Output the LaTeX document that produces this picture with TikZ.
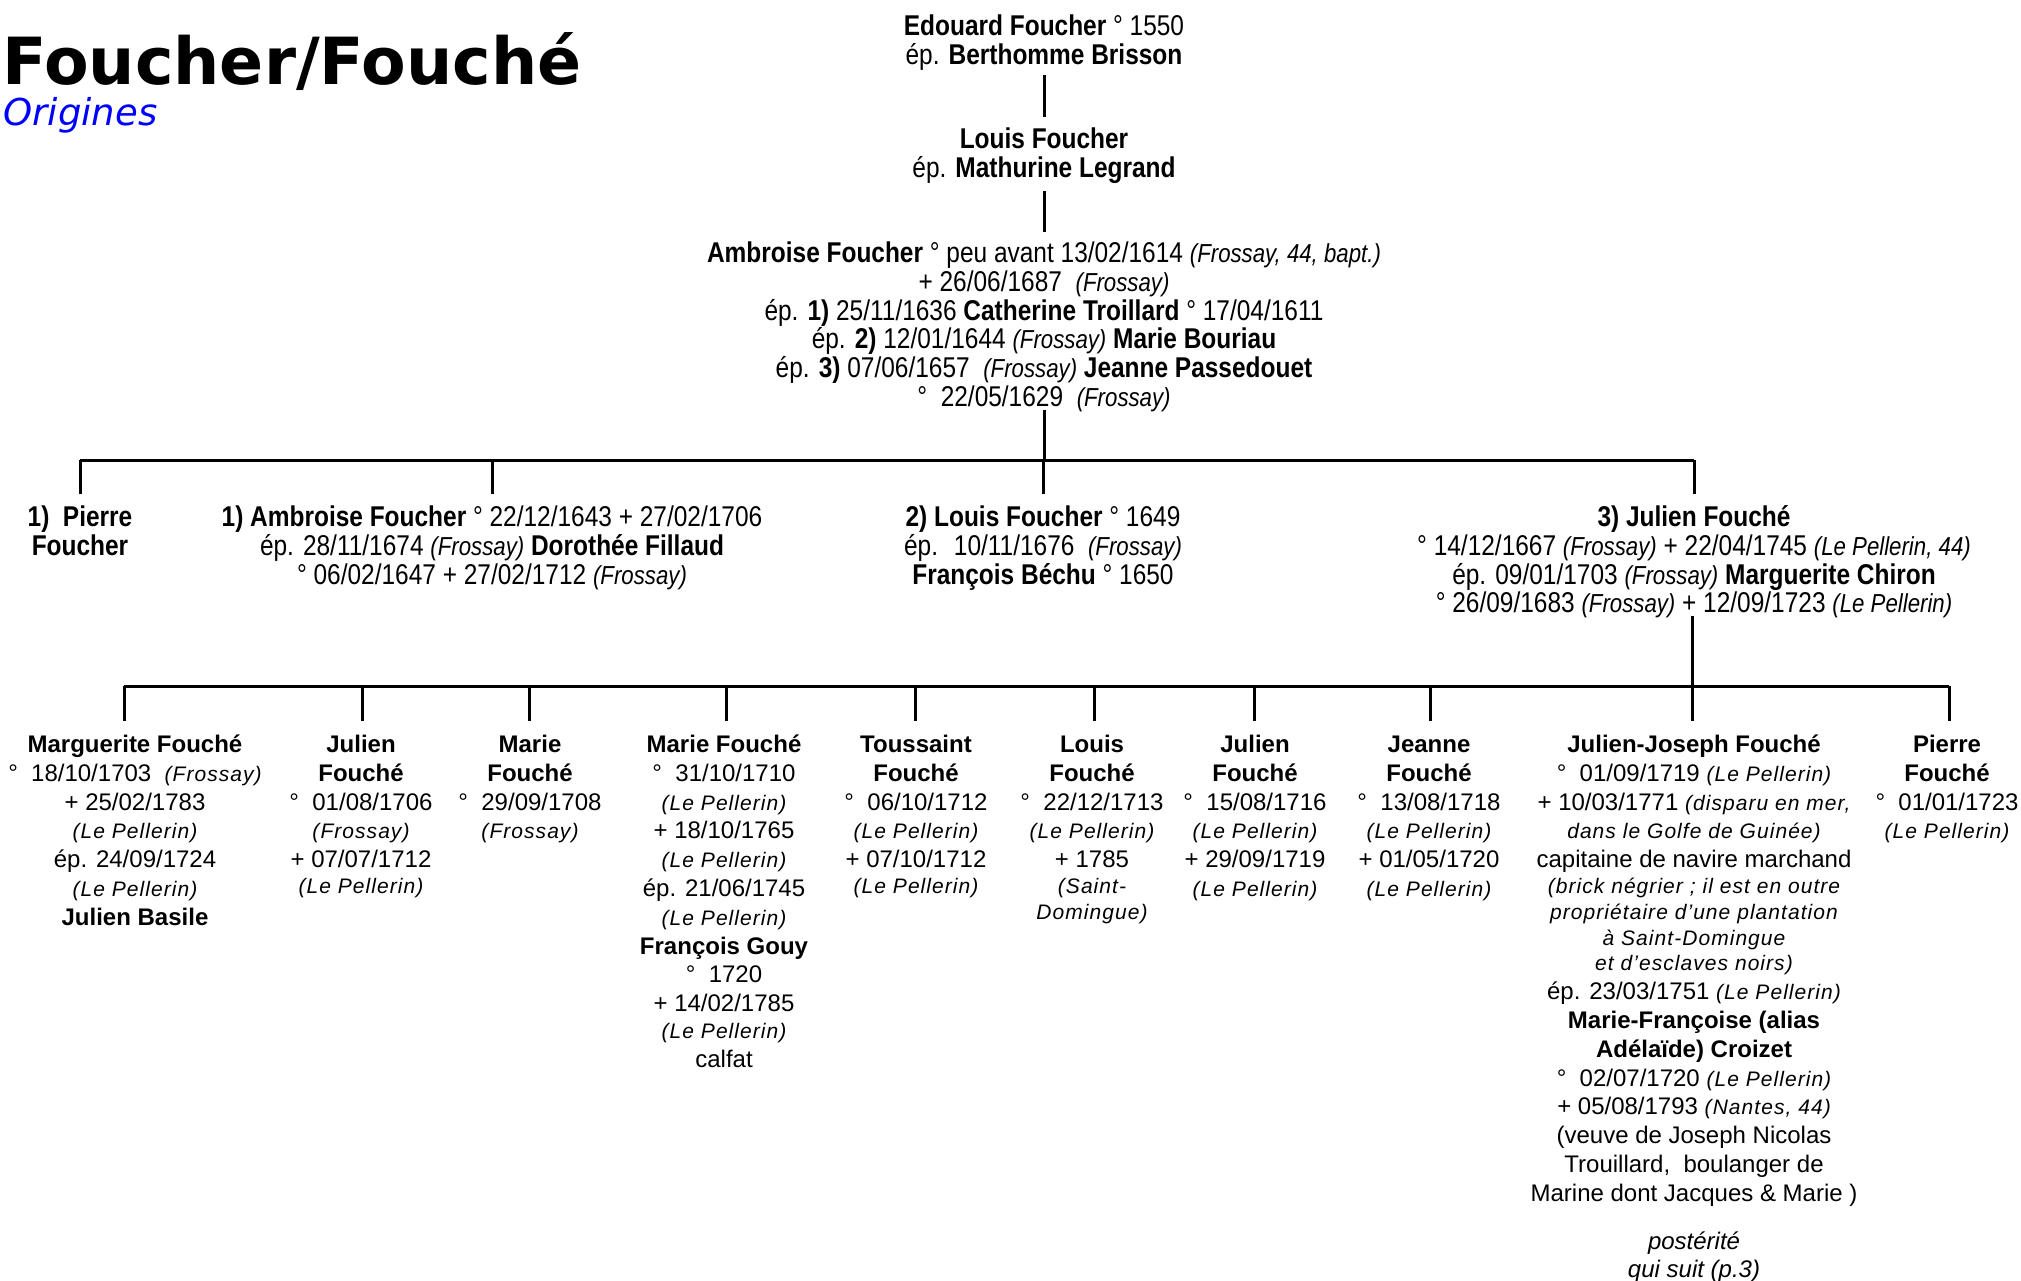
\documentclass[tikz,border=0pt]{standalone}
\usepackage{fontspec}
\setmainfont{Liberation Sans}
\newfontfamily\narrowfont[FakeStretch=0.855]{Liberation Sans}
\newfontfamily\spacedfont[LetterSpace=5]{Liberation Sans}
\newfontfamily\titlefont{DejaVu Sans}
\newcommand\st{\rule{0pt}{13pt}}
\newcommand\tit[1]{{\fontsize{13}{14.4}\selectfont\itshape #1}}
\newcommand\bit[1]{{\spacedfont\fontsize{10.5}{14.4}\selectfont\itshape #1}}
\lineskiplimit=-20pt
\lineskip=0pt
\begin{document}
\begin{tikzpicture}[x=0.5pt,y=-0.5pt,
  topbox/.style={anchor=north, align=center, inner sep=0pt, font=\narrowfont\fontsize{14.3}{14.4}\selectfont},
  kidbox/.style={anchor=north, align=center, inner sep=0pt, font=\fontsize{12}{14.4}\selectfont},
  link/.style={line width=1.5pt, black}]
\path[use as bounding box, fill=white] (0,0) rectangle (2021,1280);

% title
\node[anchor=base west, inner sep=0pt, font=\titlefont\bfseries\fontsize{32.5}{39}\selectfont] (title) at (2,84) {Foucher/Fouché};
\node[anchor=base west, inner sep=0pt, font=\titlefont\itshape\fontsize{18.5}{22}\selectfont, text=blue] (subtitle) at (3,125) {Origines};

% generations 1-3
\node[topbox] (edouard) at (1044,9) {\st\textbf{Edouard Foucher} ° 1550\\ ép. \textbf{Berthomme Brisson}};
\node[topbox] (louis) at (1044,122) {\st\textbf{Louis Foucher}\\ ép. \textbf{Mathurine Legrand}};
\node[topbox] (ambroise) at (1044,236) {\st\textbf{Ambroise Foucher} ° peu avant 13/02/1614 \tit{(Frossay, 44, bapt.)}\\
+ 26/06/1687 \ \tit{(Frossay)}\\
ép. \textbf{1)} 25/11/1636 \textbf{Catherine Troillard} ° 17/04/1611\\
ép. \textbf{2)} 12/01/1644 \tit{(Frossay)} \textbf{Marie Bouriau}\\
ép. \textbf{3)} 07/06/1657 \ \tit{(Frossay)} \textbf{Jeanne Passedouet}\\
° \ 22/05/1629 \ \tit{(Frossay)}};

% generation 4
\node[topbox] (pierre1) at (80,500) {\st\textbf{1) \ Pierre}\\ \textbf{Foucher}};
\node[topbox] (ambroise1) at (492,500) {\st\textbf{1) Ambroise Foucher} ° 22/12/1643 + 27/02/1706\\
ép. 28/11/1674 \tit{(Frossay)} \textbf{Dorothée Fillaud}\\
° 06/02/1647 + 27/02/1712 \tit{(Frossay)}};
\node[topbox] (louis2) at (1043,500) {\st\textbf{2) Louis Foucher} ° 1649\\
ép. \ 10/11/1676 \ \tit{(Frossay)}\\
\textbf{François Béchu} ° 1650};
\node[topbox] (julien3) at (1694,500) {\st\textbf{3) Julien Fouché}\\
° 14/12/1667 \tit{(Frossay)} + 22/04/1745 \tit{(Le Pellerin, 44)}\\
ép. 09/01/1703 \tit{(Frossay)} \textbf{Marguerite Chiron}\\
° 26/09/1683 \tit{(Frossay)} + 12/09/1723 \tit{(Le Pellerin)}};

% generation 5
\node[kidbox] (k1) at (135,726) {\st\textbf{Marguerite Fouché}\\
° \ 18/10/1703 \ \bit{(Frossay)}\\
+ 25/02/1783\\
\bit{(Le Pellerin)}\\
ép. 24/09/1724\\
\bit{(Le Pellerin)}\\
\textbf{Julien Basile}};
\node[kidbox] (k2) at (361,726) {\st\textbf{Julien}\\ \textbf{Fouché}\\ ° \ 01/08/1706\\ \bit{(Frossay)}\\ + 07/07/1712\\[-1.5pt] \bit{(Le Pellerin)}};
\node[kidbox] (k3) at (530,726) {\st\textbf{Marie}\\ \textbf{Fouché}\\ ° \ 29/09/1708\\ \bit{(Frossay)}};
\node[kidbox] (k4) at (724,726) {\st\textbf{Marie Fouché}\\ ° \ 31/10/1710\\ \bit{(Le Pellerin)}\\ + 18/10/1765\\ \bit{(Le Pellerin)}\\ ép. 21/06/1745\\ \bit{(Le Pellerin)}\\ \textbf{François Gouy}\\ ° \ 1720\\ + 14/02/1785\\[-1pt] \bit{(Le Pellerin)}\\ calfat};
\node[kidbox] (k5) at (916,726) {\st\textbf{Toussaint}\\ \textbf{Fouché}\\ ° \ 06/10/1712\\ \bit{(Le Pellerin)}\\ + 07/10/1712\\[-1.5pt] \bit{(Le Pellerin)}};
\node[kidbox] (k6) at (1092,726) {\st\textbf{Louis}\\ \textbf{Fouché}\\ ° \ 22/12/1713\\ \bit{(Le Pellerin)}\\ + 1785\\[-1.5pt] \bit{(Saint-}\\[-1.5pt] \bit{Domingue)}};
\node[kidbox] (k7) at (1255,726) {\st\textbf{Julien}\\ \textbf{Fouché}\\ ° \ 15/08/1716\\ \bit{(Le Pellerin)}\\ + 29/09/1719\\ \bit{(Le Pellerin)}};
\node[kidbox] (k8) at (1429,726) {\st\textbf{Jeanne}\\ \textbf{Fouché}\\ ° \ 13/08/1718\\ \bit{(Le Pellerin)}\\ + 01/05/1720\\ \bit{(Le Pellerin)}};
\node[kidbox] (k9) at (1694,726) {\st\textbf{Julien-Joseph Fouché}\\
° \ 01/09/1719 \bit{(Le Pellerin)}\\
+ 10/03/1771 \bit{(disparu en mer,}\\
\bit{dans le Golfe de Guinée)}\\
capitaine de navire marchand\\[-1.5pt]
\bit{(brick négrier ; il est en outre}\\[-1.5pt]
\bit{propriétaire d’une plantation}\\[-1.5pt]
\bit{à Saint-Domingue}\\[-1.5pt]
\bit{et d’esclaves noirs)}\\
ép. 23/03/1751 \bit{(Le Pellerin)}\\
\textbf{Marie-Françoise (alias}\\
\textbf{Adélaïde) Croizet}\\
° \ 02/07/1720 \bit{(Le Pellerin)}\\
+ 05/08/1793 \bit{(Nantes, 44)}\\
(veuve de Joseph Nicolas\\
Trouillard, \ boulanger de\\
Marine dont Jacques \& Marie )\\[9.5pt]
\textit{postérité}\\
\textit{qui suit (p.3)}};
\node[kidbox] (k10) at (1947,726) {\st\textbf{Pierre}\\ \textbf{Fouché}\\ ° \ 01/01/1723\\ \bit{(Le Pellerin)}};

% junction coordinates
\coordinate (e1) at (1044,75);  \coordinate (e2) at (1044,117);
\coordinate (l1) at (1044,191); \coordinate (l2) at (1044,232);
\coordinate (a1) at (1044,410); \coordinate (bar1) at (1044,460);
\coordinate (j1) at (1692,616); \coordinate (bar2) at (1692,686);
\coordinate (t1) at (124,721);  \coordinate (t2) at (362,721);
\coordinate (t3) at (529,721);  \coordinate (t4) at (726,721);
\coordinate (t5) at (915,721);  \coordinate (t6) at (1094,721);
\coordinate (t7) at (1254,721); \coordinate (t8) at (1430,721);
\coordinate (t9) at (1692,721); \coordinate (t10) at (1949,721);

% connectors
\draw[link] (edouard.south |- e1) -- (louis.north |- e2);
\draw[link] (louis.south |- l1) -- (ambroise.north |- l2);
\draw[link] (ambroise.south |- a1) -- (bar1);
\draw[link] (pierre1.north |- bar1) -- (julien3.north |- bar1);
\foreach \n in {pierre1,ambroise1,louis2,julien3}
  \draw[link] (\n.north |- bar1) -- ++(0,34);
\draw[link] (j1) -- (bar2);
\draw[link] (t1 |- bar2) -- (t10 |- bar2);
\foreach \i in {1,...,10}
  \draw[link] (t\i |- bar2) -- (t\i);
\end{tikzpicture}
\end{document}
